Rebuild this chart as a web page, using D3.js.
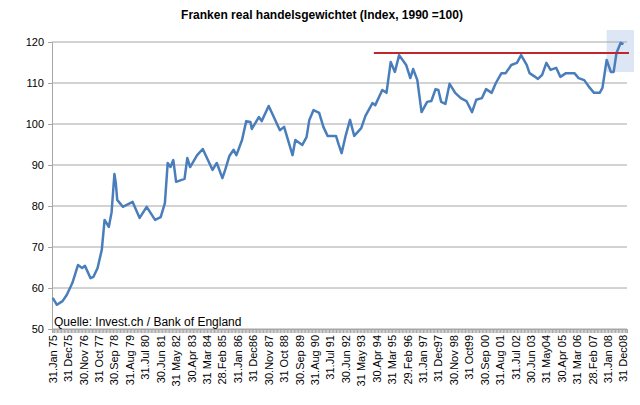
<!DOCTYPE html>
<html>
<head>
<meta charset="utf-8">
<script src="https://cdn.jsdelivr.net/npm/d3@7"></script>
<style>
body { margin: 0; background: #fff; font-family: "Liberation Sans", Arial, sans-serif; }
</style>
</head>
<body>
<script>
// month index since Jan 1975, and index value
const months = [0,3,7,10,14,18,21,23,27,29,32,35,37,40,42,44,45,46,50,57,62,67,73,77,80,82,84,86,88,94,96,98,103,107,110,114,117,121,123,126,129,131,135,138,141,142,147,149,154,157,162,165,171,173,178,181,183,186,190,193,196,202,204,206,209,212,215,220,223,228,230,235,238,241,244,247,252,255,257,260,263,267,270,273,275,277,280,283,287,291,295,299,302,306,309,313,316,320,323,327,331,334,338,340,344,346,349,352,355,359,362,366,372,375,379,383,386,390,392,395,398,400,402,405,407];
const values = [57.6,55.9,56.8,58.3,61.2,65.6,64.9,65.4,62.4,62.7,64.9,69.3,76.6,74.9,78.5,87.8,85.6,81.5,79.8,81,77.1,79.8,76.6,77.3,80.7,90.5,89.5,91.2,85.9,86.6,91.7,89.5,92.4,93.9,91.7,88.8,90.5,86.8,88.8,92.2,93.7,92.4,96.1,100.7,100.5,98.8,101.7,100.7,104.4,102.2,98.5,99.3,92.4,96.1,94.9,96.8,101,103.4,102.7,99.3,97.1,97.1,94.9,92.9,97.3,101,97.1,99,102,105.1,104.6,108.3,107.6,115.1,112.7,116.8,114.4,111.2,113.4,110.7,102.9,105.4,105.6,108.5,108.3,105.4,104.9,109.8,107.6,106.3,105.6,102.9,105.9,106.3,108.5,107.6,110,112.4,112.4,114.4,114.9,116.8,114.4,112.4,111.5,111,112,114.9,113.2,113.7,111.5,112.4,112.4,111.2,110.7,108.8,107.6,107.6,108.8,115.6,112.7,112.7,117.3,119.8,119.5];
const tickLabels = ["31.Jan 75","31 Dec75","30.Nov 76","31 Oct 77","30.Sep 78","31.Aug 79","31.Jul 80","30.Jun 81","31 May 82","30.Apr 83","31 Mar 84","28.Feb 85","31.Jan 86","31 Dec86","30.Nov 87","31 Oct 88","30.Sep 89","31.Aug 90","31.Jul 91","30.Jun 92","31 May 93","30.Apr 94","31 Mar 95","29.Feb 96","31.Jan 97","31 Dec97","30.Nov 98","31 Oct99","30.Sep 00","31.Aug 01","31.Jul 02","30.Jun 03","31 May04","30.Apr 05","31 Mar 06","28.Feb 07","31.Jan 08","31 Dec08"];
const yTicks = [50,60,70,80,90,100,110,120];
const resistanceLevel = 117.3;
const resistanceFrom = 229;

const width = 640, height = 405;
const svg = d3.select("body").append("svg").attr("width", width).attr("height", height);

const x = d3.scaleLinear().domain([-0.5, 409.5]).range([52, 627]);
const y = d3.scaleLinear().domain([50, 120]).range([329, 42]);

// title
svg.append("text")
    .attr("x", 322).attr("y", 19)
    .attr("text-anchor", "middle")
    .style("font-size", "12px").style("font-weight", "bold")
    .text("Franken real handelsgewichtet (Index, 1990 =100)");

// highlight box at the end
svg.append("rect")
    .attr("x", x(395)).attr("y", 30)
    .attr("width", 634 - x(395)).attr("height", 42)
    .attr("fill", "#dce6f4");

// gridlines
svg.append("g").selectAll("line")
    .data(yTicks)
    .join("line")
    .attr("x1", 52).attr("x2", 627)
    .attr("y1", d => y(d)).attr("y2", d => y(d))
    .attr("stroke", "#a6a6a6").attr("stroke-width", 1);

// y axis
const yAxis = svg.append("g")
    .attr("transform", "translate(52,0)")
    .call(d3.axisLeft(y).tickValues(yTicks).tickSize(4).tickPadding(4));
yAxis.select(".domain").attr("stroke", "#a6a6a6");
yAxis.selectAll(".tick line").attr("stroke", "#a6a6a6");
yAxis.selectAll("text").style("font-size", "11px").style("font-family", "Liberation Sans, Arial, sans-serif").attr("fill", "#000");

// x axis: a tick every month, labels every 11 months
const xAxis = svg.append("g")
    .attr("transform", `translate(0,${y(50)})`)
    .call(d3.axisBottom(x).tickValues(d3.range(0, 410)).tickSize(4).tickFormat(""));
xAxis.select(".domain").attr("stroke", "#a6a6a6");
xAxis.selectAll(".tick line").attr("stroke", "#a6a6a6");

svg.append("g").selectAll("text")
    .data(tickLabels)
    .join("text")
    .attr("transform", (d, i) => `translate(${x(i * 11) + 4},335) rotate(-90)`)
    .attr("text-anchor", "end")
    .style("font-size", "11px")
    .text(d => d);

// source
svg.append("text")
    .attr("x", 54).attr("y", 326)
    .style("font-size", "12px")
    .text("Quelle: Invest.ch / Bank of England");

// series line
const line = d3.line()
    .x((d, i) => x(months[i]))
    .y(d => y(d));
svg.append("path")
    .datum(values)
    .attr("d", line)
    .attr("fill", "none")
    .attr("stroke", "#4a7ebb")
    .attr("stroke-width", 2.5)
    .attr("stroke-linejoin", "round");

// resistance line
svg.append("line")
    .attr("x1", x(resistanceFrom)).attr("x2", 629)
    .attr("y1", y(resistanceLevel)).attr("y2", y(resistanceLevel))
    .attr("stroke", "#c0272d").attr("stroke-width", 2);
</script>
</body>
</html>
